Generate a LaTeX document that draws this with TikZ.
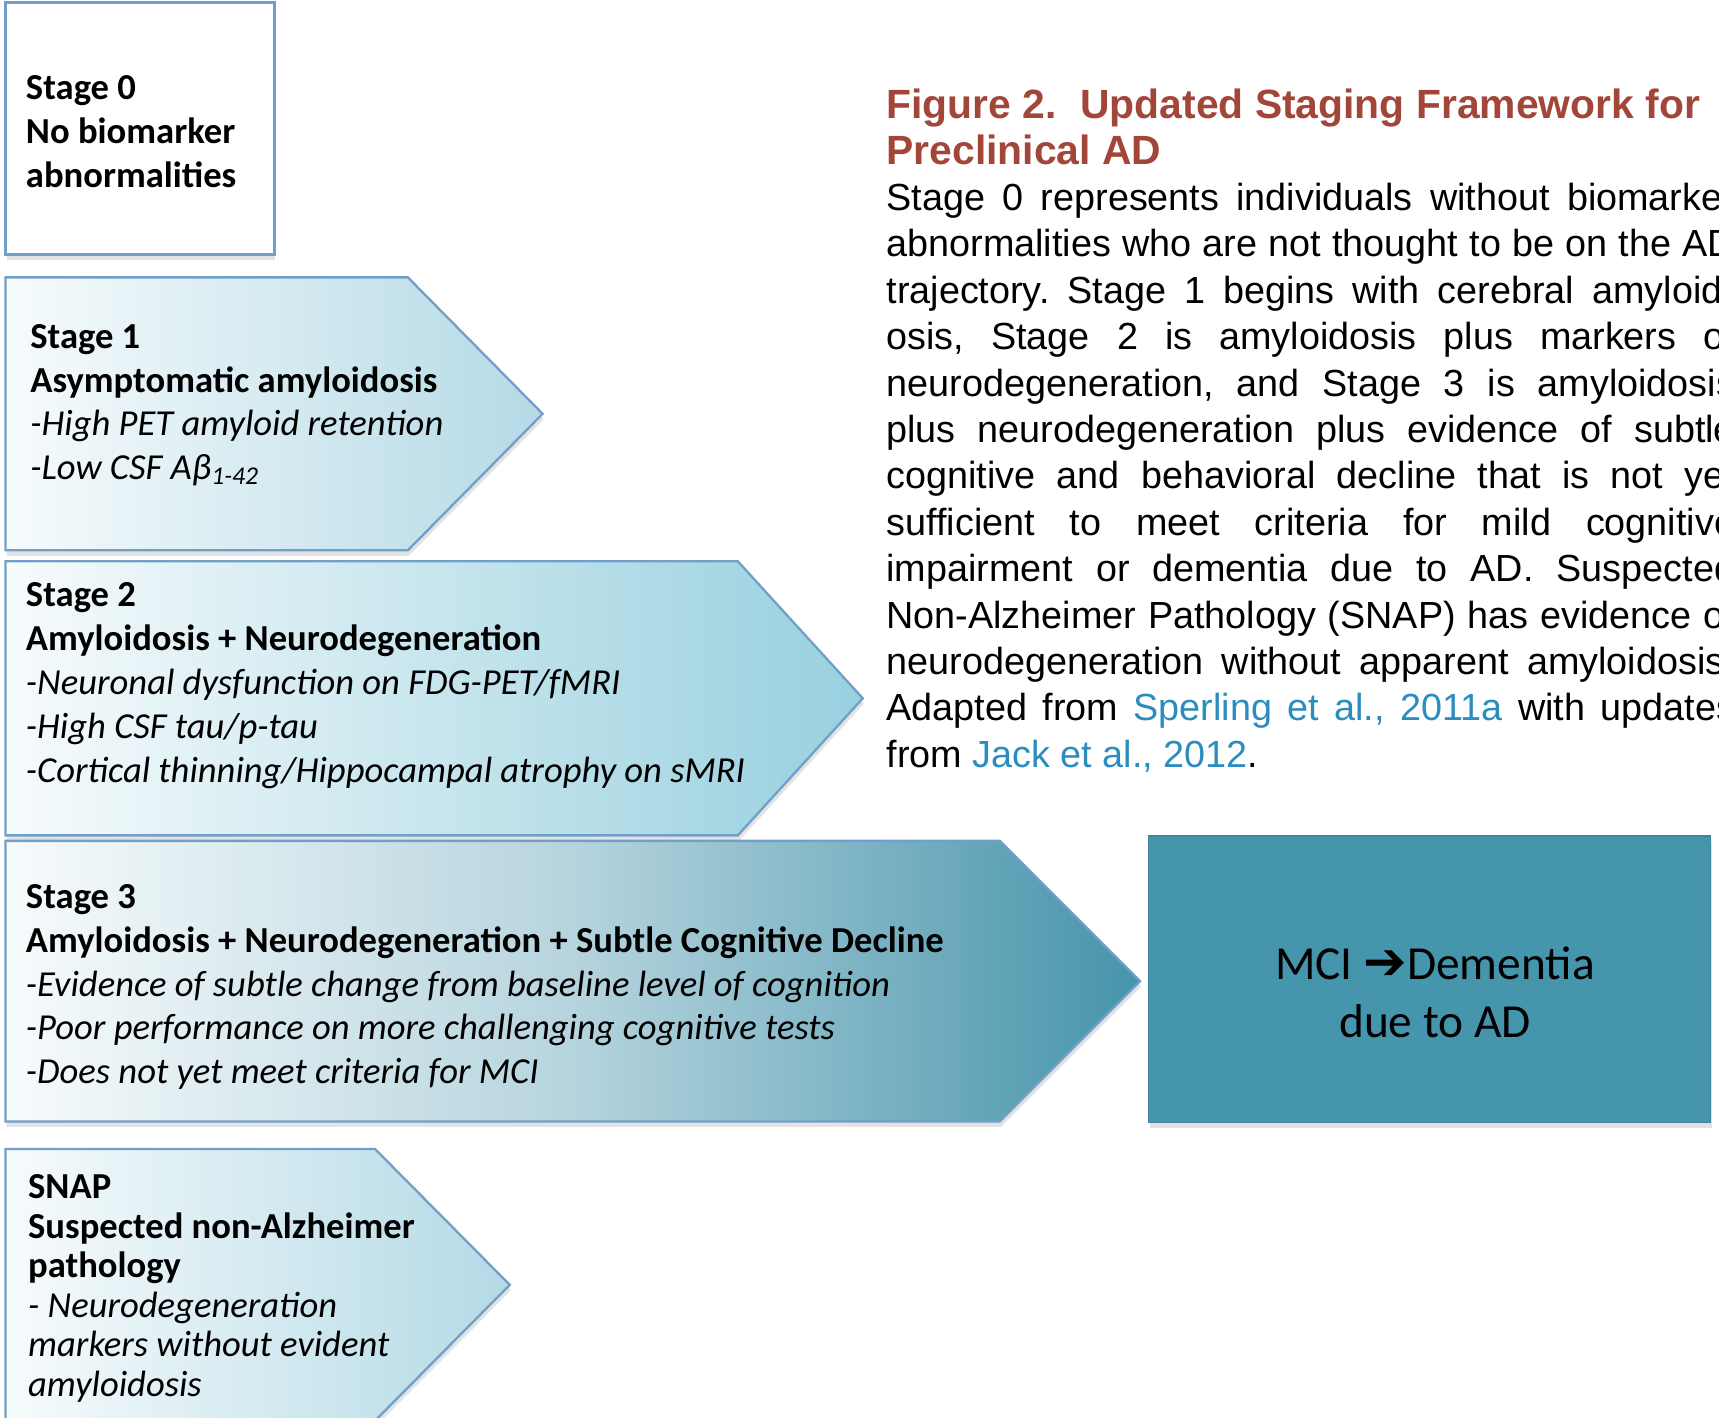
\documentclass[tikz,border=0pt]{standalone}
\usepackage{fontspec}
\setmainfont{Carlito}
\newfontfamily\capfont{Liberation Sans}
\newfontfamily\arrowfont{DejaVu Sans}
\usetikzlibrary{shadows}
\frenchspacing
\definecolor{adEdge}{HTML}{729FC8}
\definecolor{adPale}{HTML}{F7FBFC}
\definecolor{adLight}{HTML}{B4DAE6}
\definecolor{adMid}{HTML}{98D0DF}
\definecolor{adDeep}{HTML}{4694AB}
\definecolor{adHaze}{HTML}{B6D4DE}
\definecolor{adBox}{HTML}{4595AD}
\definecolor{adTitle}{HTML}{A2463A}
\definecolor{adLink}{HTML}{2A8DBD}
\tikzset{
  boxshadow/.style={drop shadow={shadow xshift=0.1mm, shadow yshift=-0.5mm,
                    opacity=0.18, fill=black!60}},
  stagebox/.style={draw=adEdge, line width=0.6pt, left color=adPale,
                   right color=adLight, boxshadow},
  plainbox/.style={draw=adEdge, line width=0.8pt, fill=white, boxshadow},
  mcibox/.style={fill=adBox, draw=adBox!90!black, line width=0.3pt, boxshadow,
                 anchor=north west, minimum width=51.3mm, minimum height=26.1mm,
                 inner sep=0pt},
  stagetext/.style={anchor=north west, inner sep=0pt, align=left,
                    font=\fontsize{9.5}{11.38}\selectfont},
  snaptext/.style={stagetext, font=\fontsize{9.5}{10.24}\selectfont},
  mcitext/.style={align=center, inner sep=0pt,
                  font=\fontsize{12.3}{15.08}\selectfont},
  captitle/.style={anchor=base west, inner sep=0pt, text=adTitle,
                   font=\capfont\bfseries\fontsize{10.6}{12}\selectfont},
  capline/.style={anchor=base west, inner sep=0pt,
                  font=\capfont\fontsize{9.8}{12}\selectfont},
}
\newcommand{\chevron}[5][]{%
  \draw[stagebox, #1] (5,#2) -- (#4,#2) -- (#5,{(#2+#3)/2}) -- (#4,#3) -- (5,#3) -- cycle;}
\newcommand{\reflink}[1]{\textcolor{adLink}{#1}}

\begin{document}
\begin{tikzpicture}[x=0.1mm, y=-0.1mm]
\clip (0,0) rectangle (1568,1293);

\draw[plainbox] (5,2) rectangle (250,232);
\node[stagetext] (s0) at (23,68)
  {\textbf{Stage 0}\\\textbf{No biomarker}\\\textbf{abnormalities}};

\chevron{253}{502}{372}{495}
\node[stagetext] (s1) at (27,295)
  {\textbf{Stage 1}\\\textbf{Asymptomatic amyloidosis}\\
   \textit{-High PET amyloid retention}\\\textit{-Low CSF Aβ\textsubscript{1-42}}};

\chevron[right color=adMid]{512}{762}{673}{787}
\node[stagetext] (s2) at (23,531)
  {\textbf{Stage 2}\\\textbf{Amyloidosis + Neurodegeneration}\\
   \textit{-Neuronal dysfunction on FDG-PET/fMRI}\\\textit{-High CSF tau/p-tau}\\
   \textit{-Cortical thinning/Hippocampal atrophy on sMRI}};

\chevron[right color=adDeep, middle color=adHaze]{767}{1023}{912}{1040}
\node[stagetext] (s3) at (23,806)
  {\textbf{Stage 3}\\\textbf{Amyloidosis + Neurodegeneration + Subtle Cognitive Decline}\\
   \textit{-Evidence of subtle change from baseline level of cognition}\\
   \textit{-Poor performance on more challenging cognitive tests}\\
   \textit{-Does not yet meet criteria for MCI}};

\chevron{1048}{1296}{342}{465}
\node[snaptext] (snap) at (25,1071)
  {\textbf{SNAP}\\\textbf{Suspected non-Alzheimer}\\\textbf{pathology}\\
   \textit{- Neurodegeneration}\\\textit{markers without evident}\\\textit{amyloidosis}};

\node[mcibox] (mci) at (1047,762) {};
\node[mcitext] (mciText) at (1309,905)
  {MCI {\arrowfont\bfseries\fontsize{13.5}{15}\selectfont ➔}Dementia\\due to AD\hspace{0.6em}};

\node[captitle] (capHead) at (808,108) {Figure 2.\hspace{0.3em} Updated Staging Framework for};
\node[captitle] (capHeadB) at (808,150) {Preclinical AD};
\foreach \ln [count=\i] in {%
  {Stage 0 represents individuals without biomarker},
  {abnormalities who are not thought to be on the AD},
  {trajectory. Stage 1 begins with cerebral amyloid-},
  {osis, Stage 2 is amyloidosis plus markers of},
  {neurodegeneration, and Stage 3 is amyloidosis},
  {plus neurodegeneration plus evidence of subtle},
  {cognitive and behavioral decline that is not yet},
  {sufficient to meet criteria for mild cognitive},
  {impairment or dementia due to AD. Suspected},
  {Non-Alzheimer Pathology (SNAP) has evidence of},
  {neurodegeneration without apparent amyloidosis.},
  {Adapted from \reflink{Sperling et al., 2011a} with updates}%
} {
  \node[capline] (cap\i) at (808,{192+42.33*(\i-1)}) {\makebox[77.4mm][s]{\ln}};
}
\node[capline] (cap13) at (808,700) {from \reflink{Jack et al., 2012}.};

\end{tikzpicture}
\end{document}
